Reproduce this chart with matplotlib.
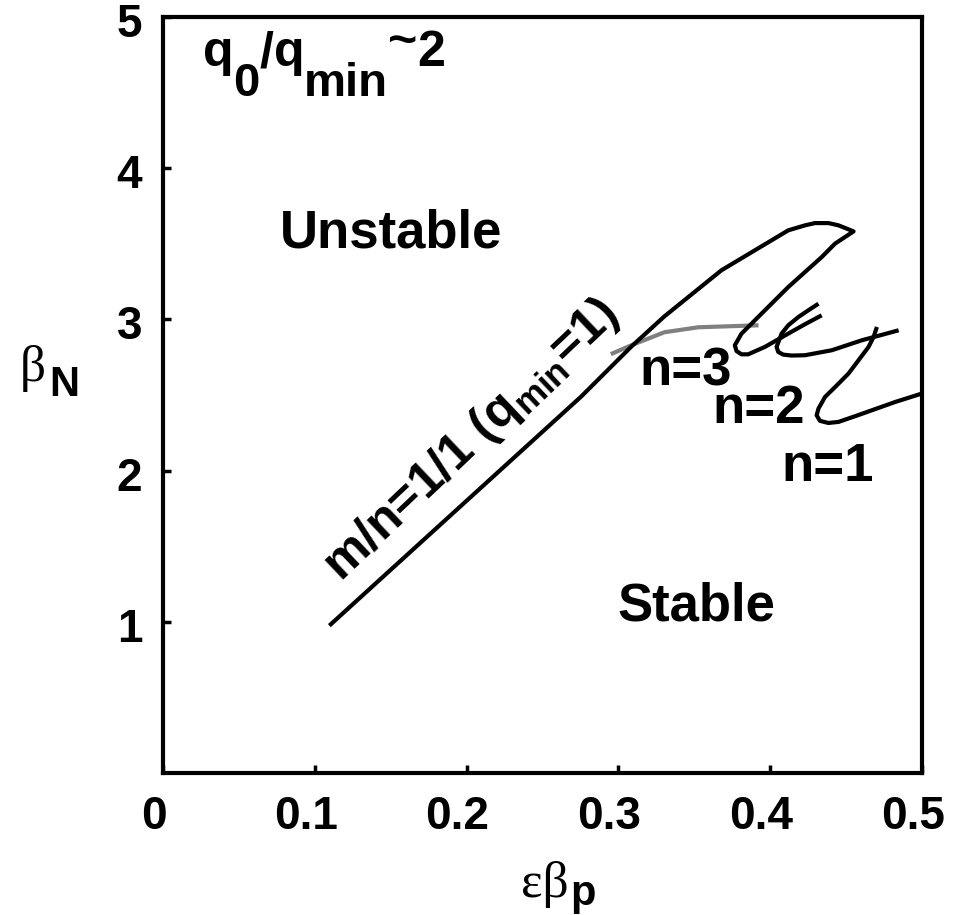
import matplotlib
matplotlib.use("Agg")
import matplotlib.pyplot as plt
from matplotlib.transforms import ScaledTranslation

plt.rcParams['font.family'] = ['Liberation Sans', 'DejaVu Sans']
plt.rcParams['font.weight'] = 'bold'
plt.rcParams['mathtext.fontset'] = 'custom'
plt.rcParams['mathtext.rm'] = 'Liberation Sans:bold'
plt.rcParams['mathtext.it'] = 'Liberation Sans:bold'
plt.rcParams['mathtext.bf'] = 'Liberation Sans:bold'
plt.rcParams['mathtext.sf'] = 'Liberation Sans:bold'

# m/n=1/1 boundary, running up over the top and down into the first hook
m11_x = [0.1096, 0.2755, 0.3085, 0.3303, 0.3679, 0.3899, 0.4119, 0.4229, 0.4295, 0.4384,
         0.4450, 0.4505, 0.4549, 0.4427, 0.4339, 0.4229, 0.4119, 0.4031, 0.3943, 0.3877,
         0.3811, 0.3767, 0.3778, 0.3811, 0.3855, 0.3965, 0.4119, 0.4229, 0.4339]
m11_y = [0.975, 2.490, 2.820, 3.020, 3.325, 3.457, 3.589, 3.622, 3.637, 3.637,
         3.622, 3.600, 3.582, 3.501, 3.412, 3.313, 3.214, 3.126, 3.038, 2.972,
         2.906, 2.829, 2.791, 2.769, 2.769, 2.818, 2.906, 2.968, 3.027]

# second hook
hook2_x = [0.4318, 0.4251, 0.4186, 0.4119, 0.4075, 0.4042, 0.4053, 0.4086, 0.4141, 0.4229,
           0.4406, 0.4604, 0.4846]
hook2_y = [3.104, 3.060, 3.016, 2.961, 2.906, 2.818, 2.785, 2.767, 2.761, 2.763,
           2.796, 2.862, 2.928]

# third hook
hook3_x = [0.4703, 0.4681, 0.4648, 0.4582, 0.4516, 0.4439, 0.4361, 0.4318, 0.4306, 0.4328,
           0.4383, 0.4450, 0.4560, 0.4670, 0.4824, 0.5000]
hook3_y = [2.950, 2.884, 2.818, 2.730, 2.642, 2.564, 2.487, 2.410, 2.366, 2.329,
           2.315, 2.322, 2.360, 2.399, 2.454, 2.510]

# n=3 boundary (grey)
n3_x = [0.2950, 0.3085, 0.3303, 0.3527, 0.3923]
n3_y = [2.770, 2.829, 2.915, 2.948, 2.961]

x_ticks = [0, 0.1, 0.2, 0.3, 0.4, 0.5]
x_ticklabels = ['0', '0.1', '0.2', '0.3', '0.4', '0.5']
y_ticks = [1, 2, 3, 4, 5]
y_ticklabels = ['1', '2', '3', '4', '5']

W, H = 970, 915
fig = plt.figure(figsize=(W / 100, H / 100), dpi=100)
ax = fig.add_axes([163 / W, 1 - 773 / H, (922 - 163) / W, (773 - 17) / H])
renderer = fig.canvas.get_renderer()

line_kw = dict(color='black', lw=3.0, solid_capstyle='butt', solid_joinstyle='round')
ax.plot(m11_x, m11_y, **line_kw)
ax.plot(hook2_x, hook2_y, **line_kw)
ax.plot(hook3_x, hook3_y, **line_kw)
ax.plot(n3_x, n3_y, color='#808080', lw=3.0, solid_capstyle='butt',
        solid_joinstyle='round', zorder=1.9)

ax.set_xlim(0, 0.5)
ax.set_ylim(0, 5)
ax.set_xticks(x_ticks)
ax.set_xticklabels(x_ticklabels)
ax.set_yticks(y_ticks)
ax.set_yticklabels(y_ticklabels)
ax.tick_params(direction='in', length=6, width=2.5, labelsize=33, top=False, right=False)
ax.tick_params(axis='x', pad=16)
ax.tick_params(axis='y', pad=15)
for lab in ax.get_xticklabels():
    lab.set_fontweight('bold')
    lab.set_transform(lab.get_transform() + ScaledTranslation(-9 / 100, 0, fig.dpi_scale_trans))
for lab in ax.get_yticklabels():
    lab.set_fontweight('bold')
    lab.set_transform(lab.get_transform() + ScaledTranslation(0, -3 / 100, fig.dpi_scale_trans))
for sp in ax.spines.values():
    sp.set_linewidth(3)

txt = dict(fontsize=38, fontweight='bold', color='black')
ax.text(0.150, 3.477, 'Unstable', ha='center', va='baseline', **txt)
ax.text(0.3514, 1.007, 'Stable', ha='center', va='baseline', **txt)
ax.text(0.344, 2.563, 'n=3', ha='center', va='baseline', **txt)
ax.text(0.3923, 2.318, 'n=2', ha='center', va='baseline', **txt)
ax.text(0.438, 1.934, 'n=1', ha='center', va='baseline', **txt)
ax.text(0.2035, 2.205, r'm/n=1/1 (q$_{\mathbf{min}}$=1)', rotation=43.5,
        rotation_mode='anchor', ha='center', va='center', fontsize=36,
        fontweight='bold', color='black')


def text_run(pieces, x0, base):
    """Place text pieces left to right; each piece is (text, baseline shift px, size, family, weight)."""
    x = x0
    for s, dy, size, fam, weight, gap in pieces:
        x += gap
        t = fig.text(x / W, 1 - (base + dy) / H, s, family=fam, fontweight=weight,
                     fontsize=size, ha='left', va='baseline', color='black')
        x = t.get_window_extent(renderer).x1
    return x


sans, serif = 'Liberation Sans', 'Liberation Serif'
# q0/qmin~2 with large, deeply dropped subscripts
text_run([('q', 0, 36, sans, 'bold', 0),
          ('0', 30, 34, sans, 'bold', 0),
          ('/', 0, 36, sans, 'bold', 0),
          ('q', 0, 36, sans, 'bold', 0),
          ('min', 30, 34, sans, 'bold', 0),
          ('~', -10, 36, sans, 'bold', 0),
          ('2', 0, 36, sans, 'bold', 0)], 203, 66)

# axis titles: serif Greek with bold sans subscripts
text_run([('\u03b2', 0, 37, serif, 'normal', 0),
          ('N', 15, 30, sans, 'bold', 3)], 20, 381)
text_run([('\u03b5\u03b2', 0, 37, serif, 'normal', 0),
          ('p', 8, 30, sans, 'bold', 2)], 521, 897)

fig.savefig('out.png', dpi=100)
